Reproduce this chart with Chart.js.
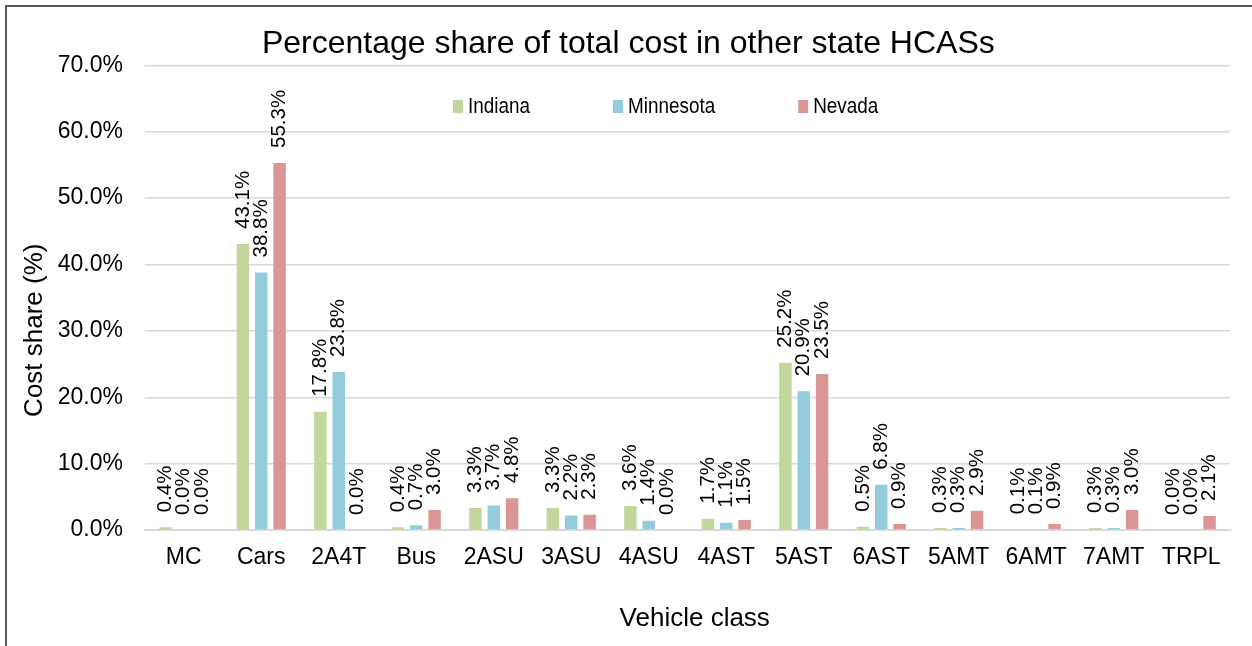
<!DOCTYPE html>
<html>
<head>
<meta charset="utf-8">
<script src="https://cdn.jsdelivr.net/npm/chart.js@4.4.1/dist/chart.umd.min.js"></script>
<style>
  html, body { margin: 0; padding: 0; background: #ffffff; }
  #wrap { width: 1252px; height: 646px; position: relative; }
</style>
</head>
<body>
<div id="wrap"><canvas id="c" width="1252" height="646"></canvas></div>
<script>
const categories = ['MC', 'Cars', '2A4T', 'Bus', '2ASU', '3ASU', '4ASU', '4AST', '5AST', '6AST', '5AMT', '6AMT', '7AMT', 'TRPL'];
const indiana   = [0.4, 43.1, 17.8, 0.4, 3.3, 3.3, 3.6, 1.7, 25.2, 0.5, 0.3, 0.1, 0.3, 0.0];
const minnesota = [0.0, 38.8, 23.8, 0.7, 3.7, 2.2, 1.4, 1.1, 20.9, 6.8, 0.3, 0.1, 0.3, 0.0];
const nevada    = [0.0, 55.3, 0.0, 3.0, 4.8, 2.3, 0.0, 1.5, 23.5, 0.9, 2.9, 0.9, 3.0, 2.1];
const seriesNames = ['Indiana', 'Minnesota', 'Nevada'];
const yTickValues = [0, 10, 20, 30, 40, 50, 60, 70];

const FONT = "'Liberation Sans', Arial, sans-serif";
const colors = ['#c3d69b', '#93cddd', '#d99694'];

const frame = {
  id: 'frame',
  beforeDraw(chart) {
    const ctx = chart.ctx;
    ctx.save();
    ctx.fillStyle = '#ffffff';
    ctx.fillRect(0, 0, chart.width, chart.height);
    ctx.strokeStyle = '#595959';
    ctx.lineWidth = 2;
    ctx.beginPath();
    ctx.moveTo(6, chart.height);
    ctx.lineTo(6, 6);
    ctx.lineTo(chart.width, 6);
    ctx.stroke();
    ctx.restore();
  }
};

const barLabels = {
  id: 'barLabels',
  afterDatasetsDraw(chart) {
    const ctx = chart.ctx;
    ctx.save();
    ctx.font = '20.5px ' + FONT;
    ctx.fillStyle = '#000000';
    ctx.textAlign = 'left';
    ctx.textBaseline = 'middle';
    chart.data.datasets.forEach((ds, i) => {
      const meta = chart.getDatasetMeta(i);
      meta.data.forEach((el, j) => {
        const v = ds.data[j];
        ctx.save();
        ctx.translate(el.x, el.y - 15);
        ctx.rotate(-Math.PI / 2);
        ctx.fillText(v.toFixed(1) + '%', 0, 0);
        ctx.restore();
      });
    });
    ctx.restore();
  }
};

const customLegend = {
  id: 'customLegend',
  afterDraw(chart) {
    const ctx = chart.ctx;
    const area = chart.chartArea;
    ctx.save();
    ctx.font = '22.5px ' + FONT;
    ctx.textBaseline = 'middle';
    ctx.textAlign = 'left';
    let x = area.left + 308;
    const yc = 106.5;
    const sx = 0.84;
    chart.data.datasets.forEach((ds) => {
      ctx.fillStyle = ds.backgroundColor;
      ctx.fillRect(x, yc - 6.5, 10, 13);
      const tx = x + 15;
      ctx.save();
      ctx.translate(tx, yc);
      ctx.scale(sx, 1);
      ctx.fillStyle = '#000000';
      ctx.fillText(ds.label, 0, 0);
      ctx.restore();
      const w = ctx.measureText(ds.label).width * sx;
      x = tx + w + 83;
    });
    ctx.restore();
  }
};

new Chart(document.getElementById('c'), {
  type: 'bar',
  data: {
    labels: categories,
    datasets: [
      { label: seriesNames[0], data: indiana,   backgroundColor: colors[0] },
      { label: seriesNames[1], data: minnesota, backgroundColor: colors[1] },
      { label: seriesNames[2], data: nevada,    backgroundColor: colors[2] }
    ]
  },
  options: {
    responsive: false,
    animation: false,
    devicePixelRatio: 1,
    layout: { padding: { left: 0, right: 22, top: 0, bottom: 0 } },
    datasets: {
      bar: { categoryPercentage: 0.71, barPercentage: 0.68, borderWidth: 0 }
    },
    plugins: {
      legend: { display: false },
      tooltip: { enabled: false },
      title: {
        display: true,
        text: '\u00a0\u00a0\u00a0Percentage share of total cost in other state HCASs',
        color: '#000000',
        font: { family: FONT, size: 32, weight: 'normal' },
        padding: { top: 25, bottom: 2 }
      }
    },
    scales: {
      x: {
        grid: { display: false, drawTicks: false },
        border: { display: true, color: '#d9d9d9', width: 2 },
        ticks: { color: '#000000', font: { family: FONT, size: 23 }, padding: 14, maxRotation: 0, autoSkip: false },
        title: {
          display: true,
          text: '\u00a0\u00a0Vehicle class',
          color: '#000000',
          font: { family: FONT, size: 26 },
          padding: { top: 0, bottom: 12 }
        },
        afterFit(scale) { scale.height = 116; }
      },
      y: {
        min: 0,
        max: 70,
        afterBuildTicks(scale) { scale.ticks = yTickValues.map(v => ({ value: v })); },
        grid: { color: '#d9d9d9', lineWidth: 1.5, drawTicks: false },
        border: { display: false },
        ticks: {
          color: '#000000',
          font: { family: FONT, size: 23 },
          padding: 22,
          callback: (v) => Number(v).toFixed(1) + '%'
        },
        title: {
          display: true,
          text: 'Cost share (%)' + '\u00a0'.repeat(9),
          color: '#000000',
          font: { family: FONT, size: 26 },
          padding: { top: 19, bottom: 0 }
        },
        afterFit(scale) { scale.width = 145; }
      }
    }
  },
  plugins: [frame, barLabels, customLegend]
});
</script>
</body>
</html>
